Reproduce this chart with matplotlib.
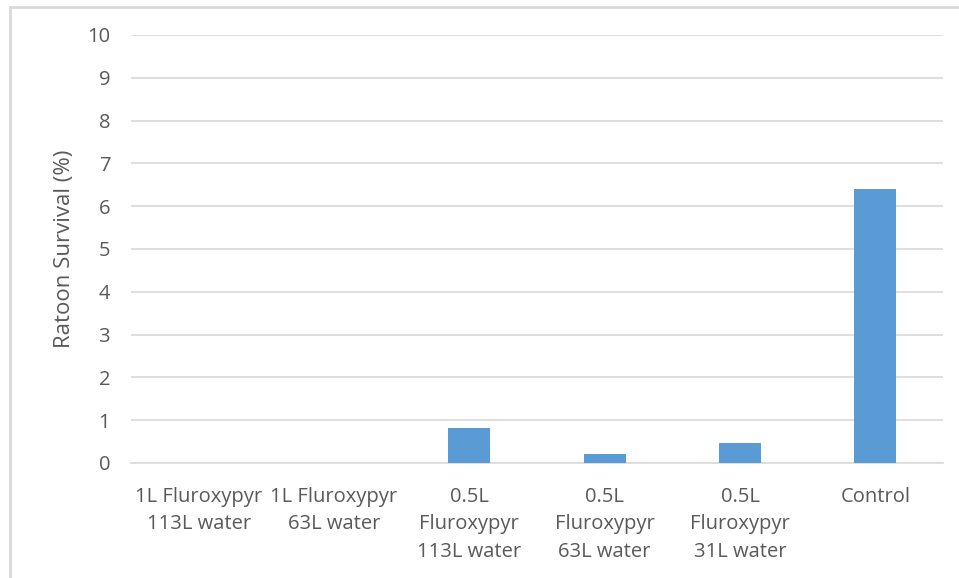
import matplotlib
matplotlib.use("Agg")
import matplotlib.pyplot as plt
from matplotlib.patches import Rectangle

categories = [
    "1L Fluroxypyr\n113L water",
    "1L Fluroxypyr\n63L water",
    "0.5L\nFluroxypyr\n113L water",
    "0.5L\nFluroxypyr\n63L water",
    "0.5L\nFluroxypyr\n31L water",
    "Control",
]
survival = [0.0, 0.0, 0.82, 0.22, 0.46, 6.4]
y_ticks = list(range(0, 11))

text_color = "#595959"
grid_color = "#D9D9D9"
bar_color = "#5B9BD5"

plt.rcParams["font.family"] = ["Open Sans", "DejaVu Sans"]

fig = plt.figure(figsize=(9.59, 5.78), dpi=100)
ax = fig.add_axes([131 / 959, 1 - 463 / 578, (943 - 131) / 959, (463 - 35) / 578])

x = range(len(categories))
ax.bar(x, survival, width=0.31, color=bar_color, zorder=3)

ax.set_xlim(-0.5, len(categories) - 0.5)
ax.set_ylim(0, 10)
ax.set_yticks(y_ticks)
ax.set_yticklabels([str(t) for t in y_ticks], fontsize=14.5, color=text_color)
ax.set_xticks(list(x))
ax.set_xticklabels(categories, fontsize=14.5, color=text_color, linespacing=1.5, va="top")
ax.tick_params(axis="both", length=0)
ax.tick_params(axis="y", pad=15)
ax.tick_params(axis="x", pad=17)

ax.grid(axis="y", color=grid_color, linewidth=1.2, zorder=0)
for s in ["top", "right", "left"]:
    ax.spines[s].set_visible(False)
ax.spines["bottom"].set_color(grid_color)
ax.spines["bottom"].set_linewidth(1.2)

ax.set_ylabel("Ratoon Survival (%)", fontsize=16, color=text_color, labelpad=9)

# Chart-area frame
fig.patches.append(Rectangle((10 / 959, -0.05), 1.1, 1 - 7 / 578 + 0.05,
                             transform=fig.transFigure, fill=False,
                             edgecolor="#D9D9D9", linewidth=2))

fig.savefig("out.png", dpi=100)
